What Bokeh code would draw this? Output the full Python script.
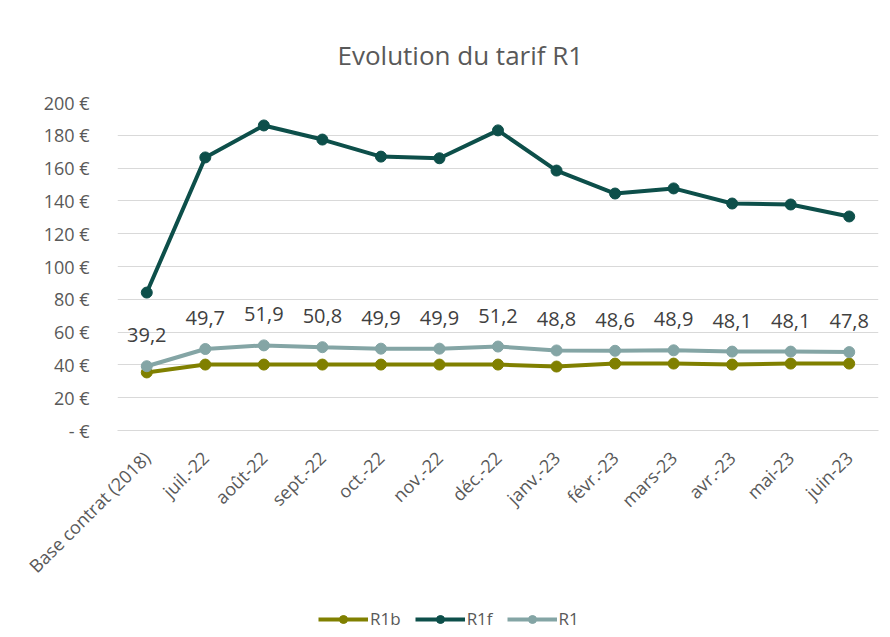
from bokeh.plotting import figure
from bokeh.models import (ColumnDataSource, Legend, LegendItem, Range1d, FactorRange,
                          Title, FixedTicker)
from bokeh.layouts import column
from bokeh.embed import file_html
from bokeh.resources import INLINE
from bokeh.core.properties import value
import math

categories = ["Base contrat (2018)", "juil.-22", "août-22", "sept.-22", "oct.-22", "nov.-22",
              "déc.-22", "janv.-23", "févr.-23", "mars-23", "avr.-23", "mai-23", "juin-23"]
r1b = [35.4, 40.2, 40.2, 40.2, 40.2, 40.2, 40.2, 39.0, 40.8, 40.8, 40.2, 40.8, 40.8]
r1f = [84.1, 166.5, 186.0, 177.4, 167.0, 166.0, 183.0, 158.5, 144.5, 147.6, 138.4, 137.8, 130.5]
r1 = [39.2, 49.7, 51.9, 50.8, 49.9, 49.9, 51.2, 48.8, 48.6, 48.9, 48.1, 48.1, 47.8]
y_ticks = [0, 20, 40, 60, 80, 100, 120, 140, 160, 180, 200]

FONT = "Open Sans"
TXT = "#595959"

src = ColumnDataSource(dict(
    cat=categories, r1b=r1b, r1f=r1f, r1=r1,
    lbl=[("%.1f" % v).replace(".", ",") for v in r1],
))

p = figure(width=882, height=600, x_range=FactorRange(*categories, range_padding=0),
           y_range=Range1d(0, 200), output_backend="svg", toolbar_location=None,
           min_border_left=117, min_border_right=4, min_border_top=102, min_border_bottom=170,
           outline_line_color=None)

p.title = Title(text="Evolution du tarif R1", align="left", offset=220,
                text_font=FONT, text_font_size="26px", text_font_style="normal",
                text_color=TXT, standoff=59)

series = [("R1b", "r1b", "#808000"), ("R1f", "r1f", "#0d4f4a"), ("R1", "r1", "#84a5a5")]
for name, col, color in series:
    p.line("cat", col, source=src, line_color=color, line_width=4)
    p.scatter("cat", col, source=src, size=11, fill_color=color, line_color=color)

p.text("cat", "r1", text="lbl", source=src, y_offset=-31, text_align="center",
       text_baseline="middle", text_font=value(FONT), text_font_size="20px",
       text_color="#404040")

p.xgrid.grid_line_color = None
p.ygrid.grid_line_color = "#d9d9d9"
p.ygrid.grid_line_width = 1

p.yaxis.ticker = FixedTicker(ticks=y_ticks)
p.yaxis.major_label_overrides = {t: ("- €" if t == 0 else f"{t} €") for t in y_ticks}
p.yaxis.axis_line_color = None
p.yaxis.major_tick_line_color = None
p.yaxis.minor_tick_line_color = None
p.yaxis.major_label_standoff = 22

p.xaxis.axis_line_color = "#d9d9d9"
p.xaxis.major_tick_line_color = None
p.xaxis.minor_tick_line_color = None
p.xaxis.major_label_orientation = math.pi / 4
p.xaxis.major_label_standoff = 18

for ax in (p.xaxis, p.yaxis):
    ax.major_label_text_font = FONT
    ax.major_label_text_font_size = "18px"
    ax.major_label_text_color = TXT

# legend strip below the chart
lg = figure(width=882, height=36, x_range=FactorRange(*categories, range_padding=0),
            y_range=Range1d(1000, 1001), output_backend="svg", toolbar_location=None,
            x_axis_location=None, y_axis_location=None, outline_line_color=None,
            min_border=0)
lg.xgrid.grid_line_color = None
lg.ygrid.grid_line_color = None
items = []
for name, col, color in series:
    ln = lg.line("cat", col, source=src, line_color=color, line_width=4)
    sc = lg.scatter("cat", col, source=src, size=11, fill_color=color, line_color=color)
    items.append(LegendItem(label=name, renderers=[ln, sc]))

legend = Legend(items=items, orientation="horizontal", location=(201, 6),
                label_text_font=FONT, label_text_font_size="17px", label_text_color=TXT,
                border_line_color=None, background_fill_alpha=0, glyph_width=50,
                spacing=14, label_standoff=2, margin=0, padding=0)
lg.add_layout(legend, "center")

open("out.html", "w").write(file_html(column(p, lg, spacing=0), INLINE))
